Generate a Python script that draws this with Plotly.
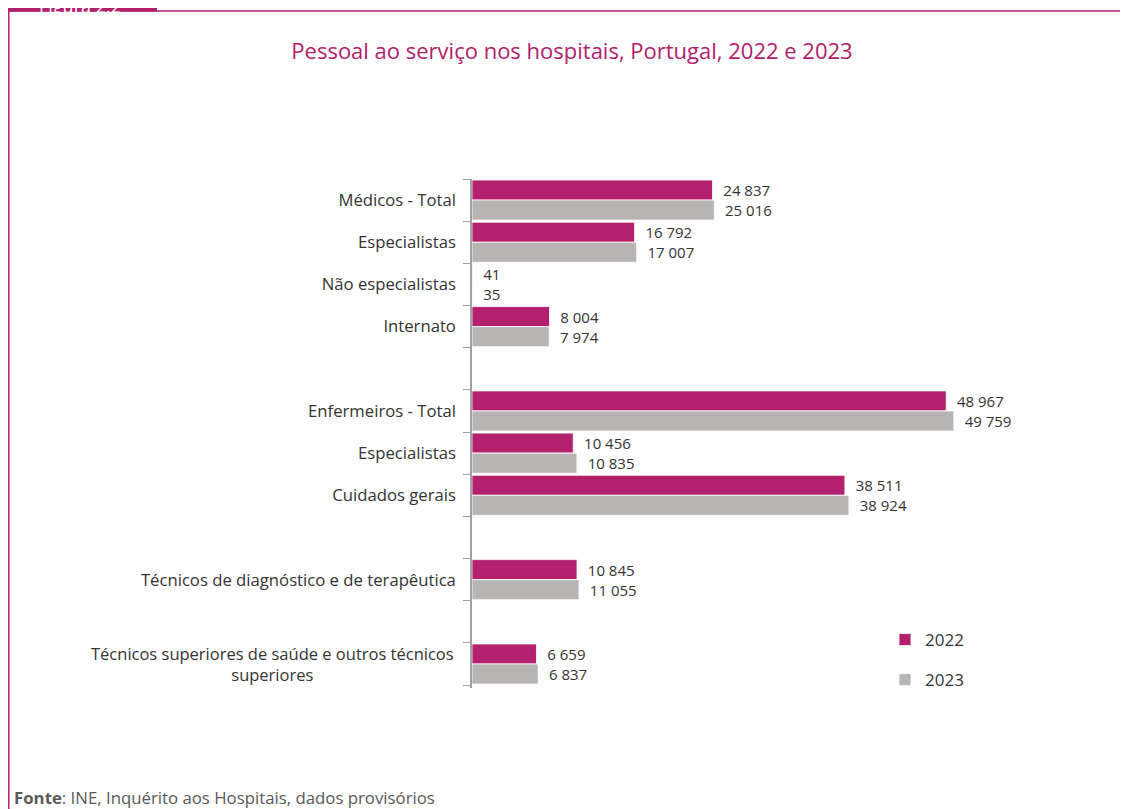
import plotly.graph_objects as go

# ---- data ----
categories = ["Médicos - Total", "Especialistas", "Não especialistas", "Internato", "",
              "Enfermeiros - Total", "Especialistas", "Cuidados gerais", "",
              "Técnicos de diagnóstico e de terapêutica", "",
              "Técnicos superiores de saúde e outros técnicos<br>superiores"]
v2022 = [24837, 16792, 41, 8004, None, 48967, 10456, 38511, None, 10845, None, 6659]
v2023 = [25016, 17007, 35, 7974, None, 49759, 10835, 38924, None, 11055, None, 6837]
series_names = ["2022", "2023"]
title_text = "Pessoal ao serviço nos hospitais, Portugal, 2022 e 2023"
source_text = "<b>Fonte</b>: INE, Inquérito aos Hospitais, dados provisórios"
figure_tag = "Figura 2.2"

# ---- style ----
MAGENTA = "#B3206D"
GRAY = "#B8B4B4"
TXT = "#333333"
OFF = 8                      # page body margin
FW, FH = 1128 - OFF, 809 - OFF
L, T, W, H = 472, 179, 581, 509   # plot area in screen pixels
LABEL_FONT = "Open Sans"


def px(x):
    return (x - L) / W


def py(y):
    return (T + H - y) / H


def fmt(v):
    return "" if v is None else f"{v:,}".replace(",", " ")


keys = [f"k{i}" for i in range(len(categories))]
ticktext = ["" if "<br>" in c else c for c in categories]

fig = go.Figure()
for name, vals, col in [(series_names[0], v2022, MAGENTA), (series_names[1], v2023, GRAY)]:
    fig.add_trace(go.Bar(
        y=keys, x=vals, orientation="h", name=name, legendgroup=name,
        marker=dict(color=col, line=dict(color="white", width=0.8)),
        text=[fmt(v) for v in vals], texttemplate="  %{text}",
        textposition="outside", constraintext="none", cliponaxis=False,
        textfont=dict(family=LABEL_FONT, size=15, color=TXT),
        hoverinfo="skip",
    ))

annotations = []
for c, k in zip(categories, keys):
    if "<br>" in c:
        annotations.append(dict(
            text=c, xref="paper", yref="y", x=px(456), y=k, xanchor="right",
            yanchor="middle", align="center", showarrow=False,
            font=dict(family=LABEL_FONT, size=16.5, color=TXT)))

annotations.append(dict(
    text=source_text, xref="paper", yref="paper", x=px(12), y=py(797),
    xanchor="left", yanchor="middle", showarrow=False,
    font=dict(family="Open Sans", size=16.8, color="#595959")))
annotations.append(dict(
    text=figure_tag, xref="paper", yref="paper", x=px(80), y=py(20),
    xanchor="center", yanchor="bottom", showarrow=False,
    font=dict(family="Open Sans", size=18, color="white")))

shapes = [
    dict(type="rect", xref="paper", yref="paper", x0=px(0), x1=px(157), y0=py(0), y1=py(11.5),
         fillcolor=MAGENTA, line=dict(width=0), layer="below"),
    dict(type="line", xref="paper", yref="paper", x0=px(0), x1=px(1130), y0=py(11), y1=py(11),
         line=dict(color=MAGENTA, width=1.5)),
    dict(type="line", xref="paper", yref="paper", x0=px(8.8), x1=px(8.8), y0=py(11), y1=py(812),
         line=dict(color=MAGENTA, width=1.5)),
]

fig.update_layout(
    width=FW, height=FH,
    margin=dict(l=L - OFF, r=FW - (L - OFF) - W, t=T - OFF, b=FH - (T - OFF) - H, pad=0),
    paper_bgcolor="white", plot_bgcolor="white",
    barmode="group", bargap=0.05, bargroupgap=0,
    title=dict(text=title_text, x=(572 - OFF) / FW, xanchor="center",
               y=1 - (51 - OFF) / FH, yanchor="middle",
               font=dict(family="Open Sans", size=22, color=MAGENTA)),
    xaxis=dict(visible=False, range=[0, 60000]),
    yaxis=dict(type="category", categoryorder="array", categoryarray=keys,
               tickmode="array", tickvals=keys, ticktext=ticktext,
               autorange="reversed", tickson="boundaries", ticks="outside", ticklen=7,
               tickcolor="#A0A0A0", showline=True, linecolor="#A0A0A0", linewidth=1.5,
               showgrid=False, ticklabelstandoff=11,
               tickfont=dict(family=LABEL_FONT, size=16.7, color=TXT)),
    legend=dict(x=px(885), y=py(622), xanchor="left", yanchor="top",
                traceorder="grouped", tracegroupgap=15,
                font=dict(family=LABEL_FONT, size=17, color=TXT),
                bgcolor="rgba(0,0,0,0)", itemwidth=30),
    annotations=annotations, shapes=shapes,
)

fig.write_html("out.html")
